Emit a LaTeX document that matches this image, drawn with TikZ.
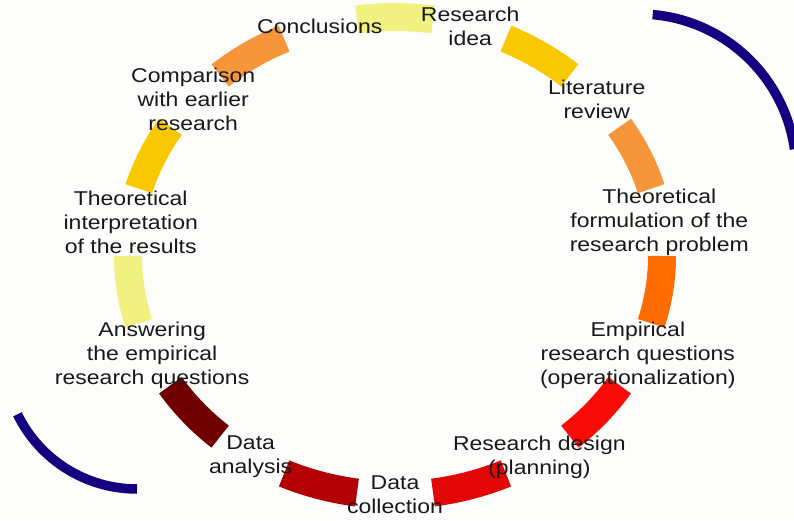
\documentclass[tikz,border=0pt]{standalone}
\usepackage{fontspec}
\setmainfont{Liberation Sans}
\usetikzlibrary{positioning,calc}
\definecolor{paleyellow}{RGB}{240,241,128}
\definecolor{gold}{RGB}{248,200,0}
\definecolor{lightorange}{RGB}{245,150,58}
\definecolor{deeporange}{RGB}{255,108,0}
\definecolor{brightred}{RGB}{248,12,8}
\definecolor{midred}{RGB}{226,6,6}
\definecolor{darkred}{RGB}{178,0,4}
\definecolor{deepred}{RGB}{112,0,0}
\definecolor{navy}{RGB}{18,0,128}
\definecolor{textgray}{RGB}{25,25,25}
\definecolor{paper}{RGB}{253,253,251}

\begin{document}
\begin{tikzpicture}[x=1pt, y=1pt,
   phase/.style={font=\fontsize{20}{24}\selectfont, text=textgray, align=center, xscale=1.15},
   ring/.style={line width=28pt},
   loopback/.style={line width=9.5pt, draw=navy}]
  \fill[paper] (0,0) rectangle (794,520);
  \clip (0,0) rectangle (794,520);
  \coordinate (hub) at (395,264);
  % eleven coloured pieces of the cycle
  \foreach \k/\col [evaluate=\k as \a using 98.18-\k*32.727] in
     {0/paleyellow,1/gold,2/lightorange,3/deeporange,4/brightred,5/midred,
      6/darkred,7/deepred,8/paleyellow,9/gold,10/lightorange}
    \draw[ring, draw=\col] ([shift={(\a:267 and 239)}]hub)
      arc[start angle=\a, end angle=\a-16.36, x radius=267, y radius=239];
  % outer blue arcs
  \coordinate (ne) at (639,349);
  \coordinate (sw) at (137,164);
  \draw[loopback] ([shift={(85:157)}]ne) arc[start angle=85, end angle=8, radius=157];
  \draw[loopback] ([shift={(206:133)}]sw) arc[start angle=206, end angle=270, radius=133];
  % the steps
  \node[phase] (idea) at ($(hub)+(73.64:267 and 239)$) {Research\\idea};
  \node[phase] (litrev) at ($(hub)+(40.91:267 and 239)$) {Literature\\review};
  \node[phase] (theory) at ($(hub)+(8.18:267 and 239)$) {Theoretical\\formulation of the\\research problem};
  \node[phase] (empq) at ($(hub)+(-24.55:267 and 239)$) {Empirical\\research questions\\(operationalization)};
  \node[phase] (design) at ($(hub)+(-57.27:267 and 239)$) {Research design\\(planning)};
  \node[phase] (collect) at ($(hub)+(-90:267 and 239)$) {Data\\collection};
  \node[phase] (analysis) at ($(hub)+(-122.73:267 and 239)$) {Data\\analysis};
  \node[phase] (answer) at ($(hub)+(-155.45:267 and 239)$) {Answering\\the empirical\\research questions};
  \node[phase] (interp) at ($(hub)+(171.82:267 and 239)$) {Theoretical\\interpretation\\of the results};
  \node[phase] (compare) at ($(hub)+(139.09:267 and 239)$) {Comparison\\with earlier\\research};
  \node[phase] (concl) at ($(hub)+(106.36:267 and 239)$) {Conclusions};
\end{tikzpicture}
\end{document}
